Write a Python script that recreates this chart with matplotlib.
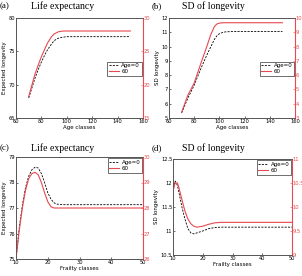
import matplotlib.pyplot as plt
from matplotlib.ticker import FormatStrFormatter

plt.rcParams.update({'font.size': 4, 'font.family': 'DejaVu Sans'})

RED = '#e8484f'

# (a) life expectancy vs age classes
age_a = [70, 72, 75, 78, 80, 83, 85, 88, 90, 93, 95, 98, 100, 105, 150]
le_age0 = [68.0, 69.2, 71.0, 72.5, 73.4, 74.6, 75.3, 76.1, 76.6, 76.95, 77.05, 77.15, 77.2, 77.2, 77.2]
le_60 = [18.2, 19.6, 21.6, 23.2, 24.2, 25.5, 26.3, 27.2, 27.6, 27.9, 28.0, 28.05, 28.05, 28.05, 28.05]

# (b) SD of longevity vs age classes
age_b = [70, 75, 80, 85, 90, 93, 96, 98, 100, 103, 105, 110, 150]
sd_age0 = [5.35, 6.4, 7.3, 8.4, 9.4, 9.95, 10.5, 10.75, 10.9, 11.0, 11.03, 11.05, 11.05]
sd_60 = [3.4, 4.6, 5.45, 6.75, 8.0, 8.8, 9.4, 9.58, 9.64, 9.67, 9.67, 9.67, 9.67]

# (c) life expectancy vs frailty classes
fr_c = [10, 11, 12, 13, 14, 15, 16, 17, 18, 19, 20, 21, 22, 23, 25, 50]
le_f_age0 = [75.0, 76.2, 77.1, 77.8, 78.25, 78.5, 78.6, 78.57, 78.35, 78.0, 77.6, 77.35, 77.2, 77.15, 77.13, 77.13]
le_f_60 = [26.0, 27.1, 28.0, 28.7, 29.15, 29.35, 29.4, 29.3, 29.0, 28.6, 28.25, 28.05, 28.0, 28.0, 28.0, 28.0]

# (d) SD of longevity vs frailty classes
fr_d = [10, 10.7, 11.5, 12, 13, 14, 15, 16, 17, 18, 20, 22, 24, 26, 27, 50]
sd_f_age0 = [11.9, 12.04, 11.95, 11.8, 11.5, 11.25, 11.05, 10.96, 10.94, 10.96, 11.0, 11.05, 11.07, 11.08, 11.08, 11.08]
sd_f_60 = [10.33, 10.5, 10.5, 10.4, 10.15, 9.92, 9.75, 9.65, 9.6, 9.58, 9.6, 9.64, 9.67, 9.68, 9.68, 9.68]

fig = plt.figure(figsize=(3.02, 2.76), dpi=100)
W, H = 302, 276


def panel(box, x, y1, y2, xlim, xt, ylim1, yt1, ylim2, yt2, xlabel, ylabel, legloc):
    l, r, t, b = box
    ax = fig.add_axes([l / W, 1 - b / H, (r - l) / W, (b - t) / H])
    ax2 = ax.twinx()
    h1, = ax.plot(x, y1, color='black', ls=(0, (2.5, 1.5)), lw=0.6)
    h2, = ax2.plot(x, y2, color=RED, lw=0.8)
    ax.set_xlim(xlim)
    ax.set_xticks(xt)
    ax.set_ylim(ylim1)
    ax.set_yticks(yt1)
    ax2.set_ylim(ylim2)
    ax2.set_yticks(yt2)
    ax.yaxis.set_major_formatter(FormatStrFormatter('%g'))
    ax2.yaxis.set_major_formatter(FormatStrFormatter('%g'))
    ax.set_xlabel(xlabel, labelpad=0.5)
    ax.set_ylabel(ylabel, labelpad=1)
    for a in (ax, ax2):
        a.tick_params(direction='in', length=1.5, width=0.4, pad=0.6, labelsize=3.7)
        for s in a.spines.values():
            s.set_linewidth(0.6)
            s.set_color('#555555')
    ax2.spines['right'].set_color(RED)
    ax2.spines['right'].set_linewidth(0.8)
    ax2.tick_params(axis='y', colors=RED, labelcolor=RED)
    ax.tick_params(top=False, right=False)
    leg = ax2.legend([h1, h2], ['Age=0', '60'], loc=legloc, fontsize=4,
                     frameon=True, fancybox=False, handlelength=1.8,
                     borderpad=0.3, labelspacing=0.2, handletextpad=0.4,
                     borderaxespad=0.2)
    leg.get_frame().set_edgecolor('black')
    leg.get_frame().set_linewidth(0.5)
    return ax


panel((16, 143, 18, 118), age_a, le_age0, le_60, (60, 160), range(60, 161, 20),
      (65, 80), [65, 70, 75, 80], (15, 30), [15, 20, 25, 30],
      'Age classes', 'Expected longevity', (0.72, 0.42))
panel((169, 295, 18, 118), age_b, sd_age0, sd_60, (60, 160), range(60, 161, 20),
      (5, 12), range(5, 13), (3, 10), range(3, 11),
      'Age classes', 'SD longevity', (0.72, 0.42))
panel((16, 143, 157, 259), fr_c, le_f_age0, le_f_60, (10, 50), range(10, 51, 10),
      (75, 79), range(75, 80), (26, 30), range(26, 31),
      'Frailty classes', 'Expected longevity', 'upper right')
panel((173, 292, 159, 255), fr_d, sd_f_age0, sd_f_60, (10, 50), range(10, 51, 10),
      (10.5, 12.5), [10.5, 11, 11.5, 12, 12.5], (9, 11), [9, 9.5, 10, 10.5, 11],
      'Frailty classes', 'SD longevity', 'upper right')

serif = 'Liberation Serif'
for lab, tx, lx, y in [('(a)', 'Life expectancy', 0, 6), ('(b)', 'SD of longevity', 152, 6),
                       ('(c)', 'Life expectancy', 0, 148), ('(d)', 'SD of longevity', 152, 148)]:
    fig.text(lx / W, 1 - y / H, lab, family=serif, fontsize=6.5, va='center', ha='left')
    cx = 63 if 'Life' in tx else 213
    fig.text(cx / W, 1 - y / H, tx, family=serif, fontsize=7, va='center', ha='center')

fig.savefig('out.png', dpi=100)
